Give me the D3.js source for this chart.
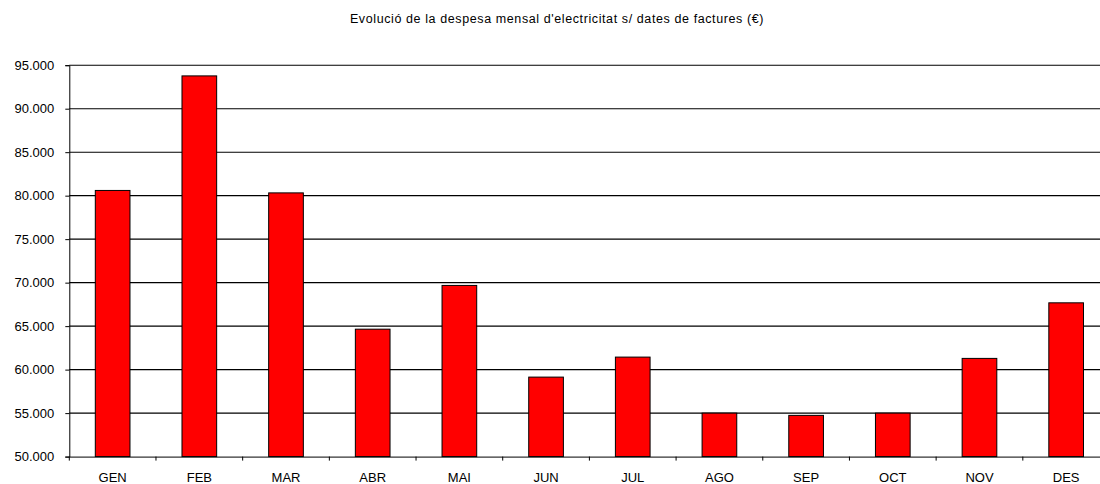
<!DOCTYPE html>
<html><head><meta charset="utf-8">
<script src="https://cdn.jsdelivr.net/npm/d3@7/dist/d3.min.js"></script>
<style>body{margin:0;background:#fff}svg{display:block}text{font-family:"Liberation Sans",Arial,sans-serif}</style>
</head><body>
<script>
const title = "Evolució de la despesa mensal d'electricitat s/ dates de factures (€)";
const months = ["GEN","FEB","MAR","ABR","MAI","JUN","JUL","AGO","SEP","OCT","NOV","DES"];
const values = [80600, 93770, 80320, 64650, 69680, 59140, 61440, 55000, 54740, 55000, 61290, 67680];
const yTicks = [50000,55000,60000,65000,70000,75000,80000,85000,90000,95000];

(function(){
const W=1100,H=484;
const svg=d3.select("body").append("svg").attr("width",W).attr("height",H);
const pL=69.3, pR=1109.5, pT=65.2, pB=456.6;
const x=d3.scaleBand().domain(months).range([pL,pR]);
const y=d3.scaleLinear().domain([50000,95000]).range([pB,pT]);
const fmt=v=>d3.format(",.0f")(v).replace(/,/g,".");

svg.append("text").attr("x",557).attr("y",23).attr("text-anchor","middle")
  .attr("font-size",12.5).attr("letter-spacing",0.6).attr("fill","#000").text(title);

// gridlines
svg.append("g").selectAll("line").data(yTicks.slice(1)).join("line")
  .attr("x1",pL).attr("x2",pR).attr("y1",d=>y(d)).attr("y2",d=>y(d))
  .attr("stroke","#000").attr("stroke-width",1.1);

// y axis
const ya=svg.append("g").attr("transform",`translate(${pL},0)`)
  .call(d3.axisLeft(y).tickValues(yTicks).tickFormat(fmt).tickSize(4).tickPadding(11));
ya.select(".domain").attr("stroke","#000");
ya.selectAll("text").attr("font-size",13).attr("fill","#000").attr("font-family","Liberation Sans, Arial, sans-serif");

// bars
const bw=x.bandwidth()*0.4;
svg.append("g").selectAll("rect").data(values).join("rect")
  .attr("x",(d,i)=>x(months[i])+x.bandwidth()/2-bw/2)
  .attr("width",bw)
  .attr("y",d=>y(d)).attr("height",d=>y(50000)-y(d))
  .attr("fill","#ff0000").attr("stroke","#000").attr("stroke-width",1);

// x axis
const xa=svg.append("g").attr("transform",`translate(0,${pB})`)
  .call(d3.axisBottom(x).tickSize(0).tickPadding(16));
xa.select(".domain").attr("stroke","#000");
xa.selectAll("text").attr("font-size",13).attr("fill","#000").attr("font-family","Liberation Sans, Arial, sans-serif");
const bounds=d3.range(months.length+1).map(i=>pL+i*x.step());
svg.append("g").selectAll("line").data(bounds).join("line")
  .attr("x1",d=>d).attr("x2",d=>d).attr("y1",pB).attr("y2",pB+4)
  .attr("stroke","#000");
})();
</script>
</body></html>
